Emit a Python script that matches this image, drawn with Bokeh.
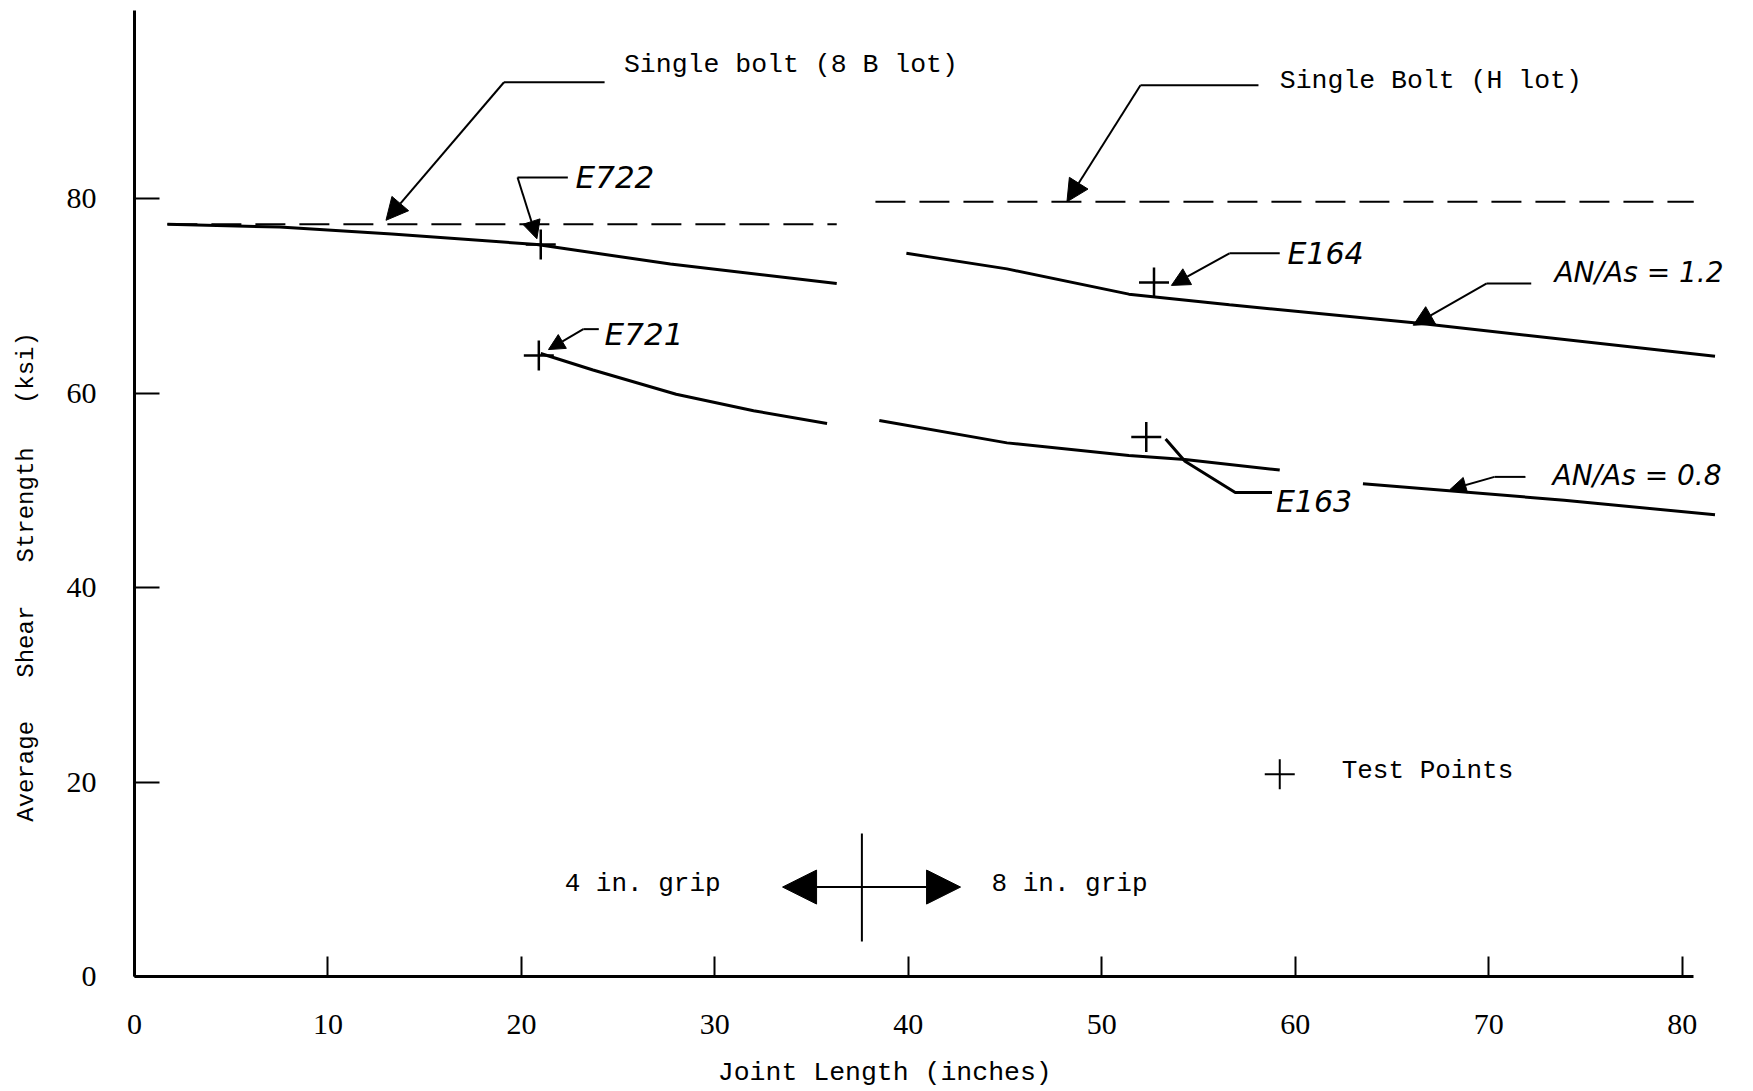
from bokeh.plotting import figure
from bokeh.models import Arrow, NormalHead, FixedTicker
from bokeh.core.properties import value
from bokeh.embed import file_html
from bokeh.resources import INLINE

# ---- data ----
x_ticks = [0, 10, 20, 30, 40, 50, 60, 70, 80]
y_ticks = [0, 20, 40, 60, 80]

bolt_8b_x = [1.7, 36.3]
bolt_8b_y = [77.4, 77.4]
bolt_h_x = [38.3, 80.6]
bolt_h_y = [79.7, 79.7]

r12_left_x = [1.7, 7.5, 13.3, 20.8, 27.7, 36.3]
r12_left_y = [77.4, 77.1, 76.4, 75.3, 73.3, 71.3]
r12_right_x = [39.9, 45.1, 51.4, 56.6, 66.4, 81.7]
r12_right_y = [74.4, 72.8, 70.2, 69.1, 67.2, 63.8]

r08_left_x = [21.0, 23.7, 28.0, 32.0, 35.8]
r08_left_y = [64.1, 62.4, 59.9, 58.2, 56.9]
r08_mid_x = [38.5, 45.1, 51.4, 54.3, 59.2]
r08_mid_y = [57.2, 54.9, 53.6, 53.2, 52.1]
r08_right_x = [63.5, 73.9, 81.7]
r08_right_y = [50.7, 49.0, 47.5]

test_names = ["E722", "E721", "E164", "E163"]
test_x = [21.0, 20.9, 52.7, 52.3]
test_y = [75.3, 63.9, 71.4, 55.5]

MONO = value("Liberation Mono")
HAND = value("DejaVu Sans")
NB = "\u00a0"

p = figure(width=1753, height=1091, output_backend="svg", toolbar_location=None,
           x_range=(0, 82.5), y_range=(0, 100),
           min_border_left=134, min_border_right=23, min_border_top=4, min_border_bottom=115)
p.outline_line_color = None
p.grid.visible = False
p.background_fill_color = "white"

# axes
p.xaxis.ticker = FixedTicker(ticks=x_ticks)
p.yaxis.ticker = FixedTicker(ticks=y_ticks)
p.xaxis.bounds = (0, 80.6)
p.yaxis.bounds = (0, 99.4)
for ax in (p.xaxis, p.yaxis):
    ax.axis_line_width = 3
    ax.axis_line_color = "black"
    ax.major_tick_line_width = 2
    ax.major_tick_line_color = "black"
    ax.minor_tick_line_color = None
    ax.major_tick_out = 0
    ax.major_label_text_font = "Liberation Serif"
    ax.major_label_text_font_size = "30px"
    ax.major_label_text_color = "black"
    ax.axis_label_text_font = "Liberation Mono"
    ax.axis_label_text_font_style = "normal"
    ax.axis_label_text_color = "black"
p.xaxis.axis_label_text_font_size = "26.5px"
p.yaxis.axis_label_text_font_size = "24px"
p.xaxis.major_tick_in = 20
p.yaxis.major_tick_in = 25
p.xaxis.major_label_standoff = 38
p.yaxis.major_label_standoff = 38
# trailing no-break spaces shift the centred label to where the original sits
p.xaxis.axis_label = "Joint Length (inches)" + NB * 6
p.yaxis.axis_label = NB.join(["Average", "", "", "Shear", "", "", "Strength", "", "", "(ksi)"]) + NB * 12
p.xaxis.axis_label_standoff = 21
p.yaxis.axis_label_standoff = 24

# single bolt dashed references
p.line(bolt_8b_x, bolt_8b_y, line_color="black", line_width=2, line_dash="30 14")
p.line(bolt_h_x, bolt_h_y, line_color="black", line_width=2, line_dash="30 14")

# An/As curves
for xs, ys in [(r12_left_x, r12_left_y), (r12_right_x, r12_right_y),
               (r08_left_x, r08_left_y), (r08_mid_x, r08_mid_y), (r08_right_x, r08_right_y)]:
    p.line(xs, ys, line_color="black", line_width=3)

# test points
p.scatter(test_x, test_y, marker="cross", size=30, line_color="black", line_width=2.5)

# annotations: leaders (polyline then arrow on last segment)
def leader(pts, head=18):
    xs = [q[0] for q in pts]
    ys = [q[1] for q in pts]
    p.line(xs[:-1], ys[:-1], line_color="black", line_width=2)
    p.add_layout(Arrow(end=NormalHead(size=head, fill_color="black", line_color="black"),
                       x_start=xs[-2], y_start=ys[-2], x_end=xs[-1], y_end=ys[-1],
                       line_color="black", line_width=2))

leader([(24.3, 92.0), (19.1, 92.0), (13.0, 77.8)], 22)
leader([(58.1, 91.7), (52.0, 91.7), (48.2, 79.7)], 22)
leader([(22.4, 82.2), (19.8, 82.2), (20.8, 75.9)], 18)
leader([(24.0, 66.6), (23.2, 66.6), (21.4, 64.5)], 16)
leader([(59.2, 74.4), (56.6, 74.4), (53.6, 71.1)], 18)
leader([(72.2, 71.3), (69.9, 71.3), (66.1, 67.0)], 20)
leader([(71.9, 51.4), (70.3, 51.4), (68.0, 50.1)], 16)
# E163 leader (no head)
p.line([53.3, 54.3, 56.9, 58.8], [55.3, 53.0, 49.8, 49.8], line_color="black", line_width=3)

def txt(x, y, s, font=MONO, size="26px", style="normal", align="left"):
    p.text([x], [y], text=[s], text_font=font, text_font_size=size, text_font_style=style,
           text_align=align, text_baseline="middle", text_color="black")

txt(25.3, 93.8, "Single bolt (8 B lot)", size="26.5px")
txt(59.2, 92.1, "Single Bolt (H lot)", size="26.5px")
txt(22.8, 82.3, "E722", HAND, "31px", "italic")
txt(24.3, 66.1, "E721", HAND, "31px", "italic")
txt(59.6, 74.4, "E164", HAND, "30px", "italic")
txt(59.0, 48.9, "E163", HAND, "30px", "italic")
txt(73.4, 72.4, "AN/As = 1.2", HAND, "28px", "italic")
txt(73.3, 51.5, "AN/As = 0.8", HAND, "28px", "italic")

# grip divider
p.line([37.6, 37.6], [3.6, 14.7], line_color="black", line_width=2)
p.add_layout(Arrow(end=NormalHead(size=34, fill_color="black", line_color="black"),
                   x_start=37.6, y_start=9.2, x_end=33.5, y_end=9.2, line_color="black", line_width=2))
p.add_layout(Arrow(end=NormalHead(size=34, fill_color="black", line_color="black"),
                   x_start=37.6, y_start=9.2, x_end=42.7, y_end=9.2, line_color="black", line_width=2))
txt(30.3, 9.5, "4 in. grip", align="right")
txt(44.3, 9.5, "8 in. grip")

# legend
p.scatter([59.2], [20.8], marker="cross", size=30, line_color="black", line_width=2)
txt(62.4, 21.1, "Test Points")

open("out.html", "w").write(file_html(p, INLINE))
